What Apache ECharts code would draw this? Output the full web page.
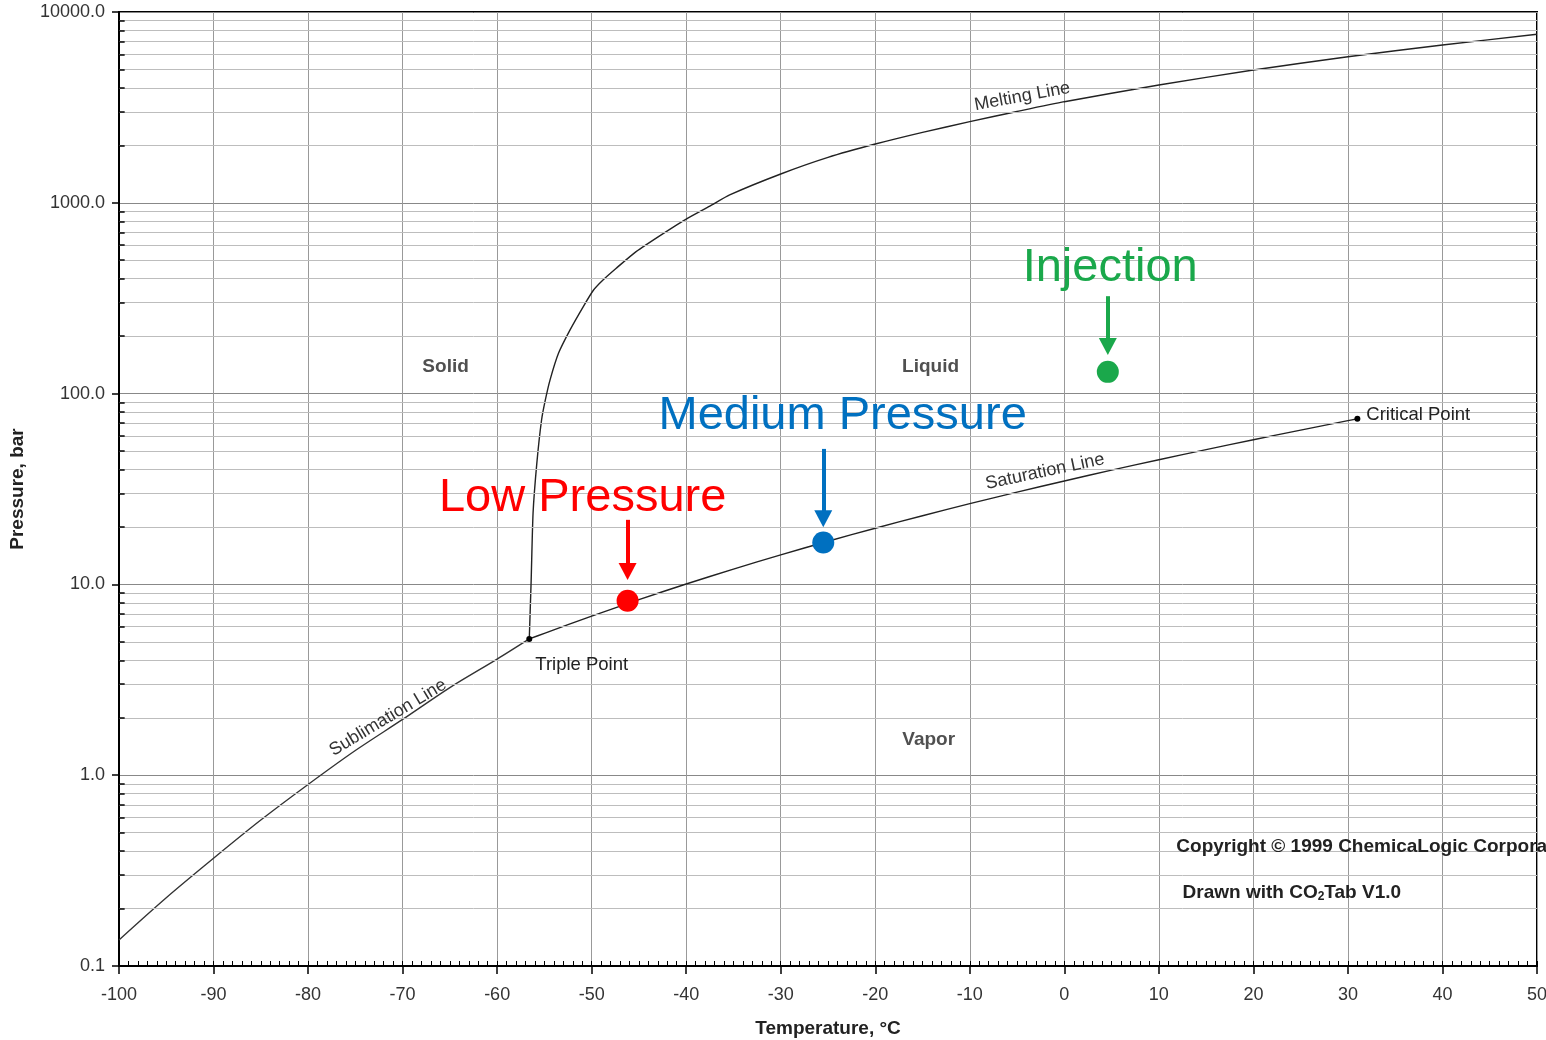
<!DOCTYPE html>
<html><head><meta charset="utf-8">
<script src="https://cdn.jsdelivr.net/npm/echarts@6/dist/echarts.min.js"></script>
<style>html,body{margin:0;padding:0;background:#fff}#c{width:1546px;height:1040px}</style>
</head><body><div id="c"></div>
<script>
// ---- data ----
const sublimationT = [-100, -95, -90, -85, -80, -75, -70, -65, -60, -56.6];
const sublimationP = [0.137, 0.228, 0.367, 0.582, 0.894, 1.347, 1.96, 2.88, 4.06, 5.18];

const saturationT = [-56.6, -55, -50, -45, -40, -35, -30, -25, -20, -15, -10, -5, 0, 5, 10, 15, 20, 25, 30, 31.0];
const saturationP = [5.18, 5.54, 6.82, 8.32, 10.05, 12.02, 14.28, 16.83, 19.70, 22.91, 26.49, 30.46, 34.85, 39.69, 45.02, 50.87, 57.29, 64.34, 72.14, 73.8];

const meltingT = [-56.6, -56.4, -56.2, -55.8, -55.3, -54.9, -54.4, -53.5, -52.3, -50.9, -49.8, -48.8, -47.4, -45.3, -42.4, -40.0, -37.5, -35.4, -30, -25, -20, -15, -10, -5, 0, 10, 20, 30, 40, 50];
const meltingP = [5.18, 10.5, 23.6, 43.2, 72.7, 92.6, 118, 163, 215, 285, 349, 394, 454, 555, 692, 822, 961, 1100, 1416, 1730, 2032, 2340, 2662, 3010, 3388, 4143, 4963, 5830, 6710, 7650];

// process points
const pointNames = ['Low Pressure', 'Medium Pressure', 'Injection'];
const pointT = [-46.2, -25.5, 4.6];
const pointP = [8.2, 16.6, 130];
const pointColors = ['#ff0000', '#0070c0', '#1aa84b'];
// arrow shafts above each point (pressure at top and bottom of arrow)
const arrowTopP = [21.8, 51.3, 324];
const arrowBottomP = [11.7, 22.1, 176.6];
// big label positions
const bigLabelT = [-50.9, -23.4, 4.9];
const bigLabelP = [28.3, 75.4, 455];

// axis ticks
const xMin = -100, xMax = 50, xStep = 10, xMinorStep = 1;
const yMin = 0.1, yMax = 10000;
const minorMantissas = [2, 3, 4, 5, 6, 7, 8, 9];
const decades = [0.1, 1, 10, 100, 1000];
const minorPressures = [];
decades.forEach(d => minorMantissas.forEach(m => minorPressures.push(+(m * d).toPrecision(3))));

// text annotations
const regionNames = ['Solid', 'Liquid', 'Vapor'];
const regionT = [-65.4, -14.1, -14.3];
const regionP = [138, 138, 1.53];
const lineNames = ['Melting Line', 'Saturation Line', 'Sublimation Line'];
const lineLabelT = [-4.4, -2.0, -71.5];
const lineLabelP = [3580, 38.8, 1.99];
const lineLabelRot = [10.5, 12, 31];

const zip = (a, b) => a.map((v, i) => [v, b[i]]);
const FONT = 'Liberation Sans, Arial, sans-serif';

const chart = echarts.init(document.getElementById('c'), null, {renderer: 'canvas'});

const textItem = (t, p, label) => ({value: [t, p], label: Object.assign({show: true, position: [0, 0], verticalAlign: 'middle', align: 'center', fontFamily: FONT, opacity: 1}, label)});

const labelData = [];
regionNames.forEach((n, i) => labelData.push(textItem(regionT[i], regionP[i], {formatter: n, fontSize: 19, fontWeight: 'bold', color: '#505050'})));
lineNames.forEach((n, i) => labelData.push(textItem(lineLabelT[i], lineLabelP[i], {formatter: n, fontSize: 18, color: '#333', rotate: lineLabelRot[i]})));
pointNames.forEach((n, i) => labelData.push(textItem(bigLabelT[i], bigLabelP[i], {formatter: n, fontSize: 47, color: pointColors[i]})));
labelData.push(textItem(-51.0, 3.78, {formatter: 'Triple Point', fontSize: 18.5, color: '#222'}));
labelData.push(textItem(32.0, 76.4, {formatter: 'Critical Point', fontSize: 18.5, color: '#222', align: 'left'}));
labelData.push(textItem(11.9, 0.42, {formatter: 'Copyright © 1999 ChemicaLogic Corporation', fontSize: 19, fontWeight: 'bold', color: '#222', align: 'left'}));
labelData.push(textItem(12.56, 0.241, {
  formatter: '{a|Drawn with CO}{s|2}{a|Tab V1.0}', align: 'left',
  rich: {a: {fontSize: 19, fontWeight: 'bold', color: '#222', fontFamily: FONT},
         s: {fontSize: 12, fontWeight: 'bold', color: '#222', fontFamily: FONT, padding: [8, 0, 0, 0]}}
}));

const option = {
  animation: false,
  backgroundColor: '#fff',
  grid: {left: 119, right: 9, top: 12, bottom: 74, show: true, borderColor: '#000', borderWidth: 2, containLabel: false, outerBoundsMode: 'none'},
  xAxis: [
    {
      type: 'value', min: xMin, max: xMax, interval: xStep, position: 'bottom',
      axisLine: {show: true, onZero: false, lineStyle: {color: '#000', width: 2}},
      axisTick: {show: true, length: 8, lineStyle: {color: '#000', width: 1.5}},
      axisLabel: {color: '#333', fontSize: 18, margin: 20, fontFamily: FONT},
      splitLine: {show: true, lineStyle: {color: '#999', width: 1}},
      name: 'Temperature, °C', nameLocation: 'middle', nameGap: 53,
      nameTextStyle: {color: '#222', fontSize: 19, fontWeight: 'bold', fontFamily: FONT}
    },
    {
      type: 'value', min: xMin, max: xMax, interval: xMinorStep, position: 'bottom',
      axisLine: {show: false, onZero: false},
      axisTick: {show: true, inside: true, length: 5, lineStyle: {color: '#000', width: 1}},
      axisLabel: {show: false}, splitLine: {show: false}
    }
  ],
  yAxis: {
    type: 'log', logBase: 10, min: yMin, max: yMax,
    axisLine: {show: true, onZero: false, lineStyle: {color: '#000', width: 2}},
    axisTick: {show: true, length: 7, lineStyle: {color: '#000', width: 1.5}},
    axisLabel: {color: '#333', fontSize: 18, margin: 14, fontFamily: FONT, formatter: v => Number(v).toFixed(1)},
    splitLine: {show: true, lineStyle: {color: '#888', width: 1}},
    name: 'Pressure, bar', nameLocation: 'middle', nameGap: 92,
    nameTextStyle: {color: '#222', fontSize: 19, fontWeight: 'bold', fontFamily: FONT}
  },
  series: [
    {
      name: 'minorGrid', type: 'line', data: [], z: 1, silent: true,
      markLine: {
        silent: true, symbol: ['none', 'none'], label: {show: false}, animation: false,
        lineStyle: {color: '#bdbdbd', width: 1, type: 'solid'},
        data: minorPressures.map(v => ({yAxis: v}))
      }
    },
    {
      name: 'minorTicks', type: 'line', data: [], z: 2, silent: true,
      markLine: {
        silent: true, symbol: ['none', 'none'], label: {show: false}, animation: false,
        lineStyle: {color: '#000', width: 1.5, type: 'solid'},
        data: minorPressures.map(v => [{coord: [xMin, v]}, {coord: [xMin + 0.6, v]}])
      }
    },
    {name: 'Sublimation', type: 'line', data: zip(sublimationT, sublimationP), showSymbol: false, smooth: 0.3, z: 3,
     lineStyle: {color: '#333', width: 1.4}},
    {name: 'Saturation', type: 'line', data: zip(saturationT, saturationP), showSymbol: false, smooth: 0.3, z: 3,
     lineStyle: {color: '#222', width: 1.4}},
    {name: 'Melting', type: 'line', data: zip(meltingT, meltingP), showSymbol: false, smooth: 0.2, z: 3,
     lineStyle: {color: '#222', width: 1.4}},
    {name: 'special', type: 'scatter', z: 4, symbolSize: 6, itemStyle: {color: '#000', opacity: 1},
     data: [[saturationT[0], saturationP[0]], [saturationT[saturationT.length - 1], saturationP[saturationP.length - 1]]]},
    {
      name: 'process', type: 'scatter', z: 5, symbolSize: 22, itemStyle: {opacity: 1},
      data: pointT.map((t, i) => ({value: [t, pointP[i]], itemStyle: {color: pointColors[i], opacity: 1}})),
      markLine: {
        silent: true, symbol: ['none', 'triangle'], symbolSize: [18, 17], label: {show: false}, animation: false,
        data: pointT.map((t, i) => [
          {coord: [t, arrowTopP[i]], lineStyle: {color: pointColors[i], width: 4, type: 'solid', opacity: 1}, itemStyle: {color: pointColors[i]}},
          {coord: [t, arrowBottomP[i]]}
        ])
      }
    },
    {name: 'labels', type: 'scatter', z: 6, symbolSize: 1, silent: true,
     itemStyle: {color: '#fff', opacity: 1}, data: labelData}
  ]
};
chart.setOption(option);
</script></body></html>
